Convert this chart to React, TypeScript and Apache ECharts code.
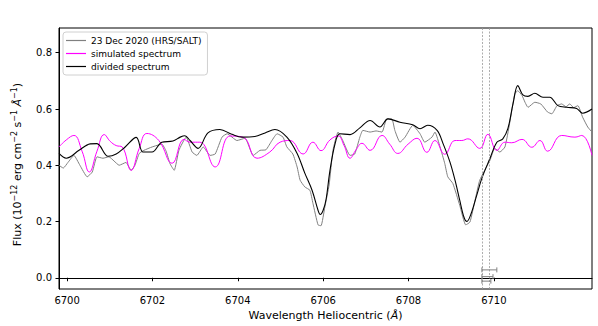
import React, { useEffect, useRef } from "react";
import * as echarts from "echarts";

// ---- data ----
const obsWave = [6699.81, 6699.91, 6700.02, 6700.16, 6700.30, 6700.47, 6700.59, 6700.70, 6700.84, 6700.98, 6701.10, 6701.22, 6701.38, 6701.50, 6701.59, 6701.69, 6701.80, 6701.99, 6702.22, 6702.32, 6702.41, 6702.51, 6702.62, 6702.79, 6702.93, 6703.04, 6703.19, 6703.35, 6703.47, 6703.63, 6703.75, 6703.98, 6704.17, 6704.36, 6704.52, 6704.66, 6704.80, 6704.92, 6705.06, 6705.15, 6705.29, 6705.39, 6705.46, 6705.57, 6705.69, 6705.76, 6705.88, 6705.95, 6706.04, 6706.14, 6706.23, 6706.35, 6706.46, 6706.63, 6706.74, 6706.86, 6706.93, 6707.10, 6707.24, 6707.38, 6707.49, 6707.61, 6707.68, 6707.80, 6707.92, 6708.10, 6708.27, 6708.38, 6708.55, 6708.62, 6708.74, 6708.85, 6708.92, 6709.04, 6709.20, 6709.34, 6709.44, 6709.56, 6709.67, 6709.91, 6710.02, 6710.14, 6710.26, 6710.37, 6710.49, 6710.56, 6710.66, 6710.73, 6710.80, 6710.96, 6711.10, 6711.26, 6711.36, 6711.48, 6711.59, 6711.69, 6711.78, 6711.87, 6711.97, 6712.08, 6712.20, 6712.30];
const obsFlux = [0.400, 0.390, 0.410, 0.435, 0.400, 0.359, 0.376, 0.430, 0.425, 0.430, 0.415, 0.400, 0.410, 0.382, 0.400, 0.442, 0.453, 0.465, 0.475, 0.450, 0.406, 0.382, 0.453, 0.500, 0.447, 0.435, 0.465, 0.435, 0.440, 0.500, 0.512, 0.488, 0.496, 0.435, 0.453, 0.455, 0.488, 0.512, 0.500, 0.465, 0.440, 0.394, 0.347, 0.323, 0.311, 0.265, 0.188, 0.185, 0.252, 0.330, 0.453, 0.518, 0.488, 0.435, 0.440, 0.500, 0.524, 0.518, 0.522, 0.518, 0.565, 0.565, 0.524, 0.482, 0.500, 0.542, 0.512, 0.482, 0.500, 0.518, 0.465, 0.406, 0.359, 0.335, 0.258, 0.188, 0.198, 0.276, 0.347, 0.418, 0.460, 0.447, 0.465, 0.549, 0.654, 0.665, 0.648, 0.624, 0.606, 0.624, 0.618, 0.589, 0.583, 0.612, 0.618, 0.608, 0.618, 0.605, 0.612, 0.571, 0.536, 0.518];

const simWave = [6699.81, 6699.98, 6700.16, 6700.35, 6700.52, 6700.70, 6700.87, 6701.01, 6701.15, 6701.29, 6701.50, 6701.69, 6701.87, 6702.15, 6702.46, 6702.74, 6702.88, 6703.11, 6703.47, 6703.82, 6704.12, 6704.45, 6704.75, 6704.99, 6705.22, 6705.53, 6705.76, 6705.95, 6706.16, 6706.35, 6706.49, 6706.63, 6706.77, 6706.91, 6707.10, 6707.38, 6707.56, 6707.75, 6707.99, 6708.20, 6708.43, 6708.62, 6708.85, 6709.09, 6709.25, 6709.39, 6709.67, 6709.86, 6710.07, 6710.26, 6710.42, 6710.66, 6710.89, 6711.08, 6711.26, 6711.59, 6711.90, 6712.06, 6712.30];
const simFlux = [0.465, 0.490, 0.506, 0.450, 0.376, 0.450, 0.509, 0.485, 0.470, 0.465, 0.382, 0.460, 0.513, 0.488, 0.407, 0.492, 0.482, 0.482, 0.394, 0.504, 0.500, 0.425, 0.447, 0.482, 0.488, 0.440, 0.482, 0.452, 0.490, 0.504, 0.470, 0.425, 0.455, 0.478, 0.453, 0.506, 0.475, 0.442, 0.475, 0.496, 0.446, 0.488, 0.439, 0.488, 0.488, 0.494, 0.460, 0.510, 0.453, 0.482, 0.480, 0.492, 0.464, 0.488, 0.450, 0.506, 0.500, 0.506, 0.435];

const divWave = [6699.81, 6699.98, 6700.28, 6700.54, 6700.70, 6700.96, 6701.15, 6701.36, 6701.62, 6701.78, 6701.99, 6702.22, 6702.48, 6702.65, 6702.76, 6702.88, 6703.07, 6703.30, 6703.58, 6703.86, 6704.10, 6704.40, 6704.64, 6704.87, 6705.15, 6705.39, 6705.57, 6705.74, 6705.88, 6705.93, 6706.00, 6706.07, 6706.16, 6706.28, 6706.39, 6706.63, 6706.86, 6707.10, 6707.33, 6707.52, 6707.80, 6708.10, 6708.27, 6708.45, 6708.67, 6708.81, 6708.97, 6709.09, 6709.20, 6709.30, 6709.37, 6709.46, 6709.60, 6709.72, 6709.91, 6710.07, 6710.21, 6710.33, 6710.45, 6710.56, 6710.68, 6710.80, 6710.96, 6711.15, 6711.31, 6711.50, 6711.71, 6711.94, 6712.08, 6712.30];
const divFlux = [0.442, 0.425, 0.453, 0.476, 0.477, 0.432, 0.440, 0.465, 0.499, 0.447, 0.447, 0.482, 0.486, 0.500, 0.505, 0.488, 0.460, 0.515, 0.527, 0.510, 0.500, 0.502, 0.515, 0.527, 0.500, 0.442, 0.372, 0.311, 0.240, 0.225, 0.240, 0.280, 0.382, 0.477, 0.512, 0.509, 0.533, 0.559, 0.536, 0.565, 0.553, 0.544, 0.530, 0.542, 0.524, 0.477, 0.412, 0.347, 0.276, 0.215, 0.200, 0.225, 0.294, 0.354, 0.425, 0.482, 0.494, 0.531, 0.619, 0.683, 0.650, 0.645, 0.656, 0.642, 0.642, 0.612, 0.606, 0.602, 0.585, 0.600];

const markerWaves = [6709.72, 6709.89];

const errCenter = [6709.89, 6709.86, 6709.84];
const errFlux = [0.028, 0.004, -0.012];
const errLow = [6709.72, 6709.72, 6709.72];
const errHigh = [6710.07, 6709.98, 6709.93];

const xTicks = [6700, 6702, 6704, 6706, 6708, 6710];
const yTicks = [0.0, 0.2, 0.4, 0.6, 0.8];

const seriesNames = ["23 Dec 2020 (HRS/SALT)", "simulated spectrum", "divided spectrum"];

const FONT = "DejaVu Sans";

export default function App() {
  const ref = useRef<HTMLDivElement>(null);
  useEffect(() => {
    document.body.style.margin = "0";
    const chart = echarts.init(ref.current!, null, { renderer: "svg" });
    const zip = (a: number[], b: number[]) => a.map((v, i) => [v, b[i]]);
    const errData = errCenter.map((c, i) => [c, errFlux[i], errLow[i], errHigh[i]]);
    chart.setOption({
      animation: false,
      backgroundColor: "#fff",
      grid: { left: 59, right: 6, top: 28, bottom: 37, show: true, borderColor: "#000", borderWidth: 1, backgroundColor: "transparent" },
      legend: {
        orient: "vertical",
        left: 63,
        top: 32,
        padding: [4, 6, 4, 3],
        itemGap: 4,
        itemWidth: 20,
        itemHeight: 1.2,
        icon: "rect",
        backgroundColor: "#fff",
        borderColor: "#d0d0d0",
        borderWidth: 1,
        borderRadius: 3,
        data: seriesNames,
        textStyle: { fontFamily: FONT, fontSize: 9, color: "#000" },
      },
      xAxis: {
        type: "value",
        min: 6699.81,
        max: 6712.3,
        name: "Wavelength Heliocentric ({it|Å})",
        nameLocation: "middle",
        nameGap: 20,
        nameTextStyle: { fontFamily: FONT, fontSize: 11, color: "#000", rich: { it: { fontFamily: FONT, fontSize: 11, fontStyle: "italic", color: "#000" } } },
        axisLine: { show: true, lineStyle: { color: "#000", width: 1 } },
        axisTick: { show: true, length: 3.5, lineStyle: { color: "#000" }, customValues: xTicks },
        axisLabel: { fontFamily: FONT, fontSize: 10, color: "#000", margin: 6, customValues: xTicks, formatter: (v: number) => String(Math.round(v)) },
        splitLine: { show: false },
      },
      yAxis: {
        type: "value",
        min: -0.04,
        max: 0.888,
        name: "Flux (10{sup|−12} erg cm{sup|−2} s{sup|−1} {it|Å}{sup|−1})",
        nameLocation: "middle",
        nameGap: 28,
        nameTextStyle: {
          fontFamily: FONT, fontSize: 11, color: "#000", lineHeight: 15,
          padding: [0, 12, 0, 0],
          rich: {
            sup: { fontFamily: FONT, fontSize: 8, color: "#000", verticalAlign: "top", lineHeight: 15 },
            it: { fontFamily: FONT, fontSize: 11, fontStyle: "italic", color: "#000", lineHeight: 15 },
          },
        },
        axisLine: { show: true, lineStyle: { color: "#000", width: 1 } },
        axisTick: { show: true, length: 3.5, lineStyle: { color: "#000" }, customValues: yTicks },
        axisLabel: { fontFamily: FONT, fontSize: 10, color: "#000", margin: 7, customValues: yTicks, formatter: (v: number) => v.toFixed(1) },
        splitLine: { show: false },
      },
      series: [
        {
          name: seriesNames[0],
          type: "line",
          data: zip(obsWave, obsFlux),
          showSymbol: false,
          smooth: 0.15,
          color: "#808080",
          itemStyle: { color: "#808080" },
          lineStyle: { color: "#808080", width: 1 },
          z: 2,
          markLine: {
            silent: true,
            symbol: ["none", "none"],
            label: { show: false },
            lineStyle: { color: "#999", type: [2, 1.5], width: 0.8 },
            data: markerWaves.map((w) => ({ xAxis: w })),
          },
        },
        {
          name: seriesNames[1],
          type: "line",
          data: zip(simWave, simFlux),
          showSymbol: false,
          smooth: 0.45,
          color: "#ff00ff",
          itemStyle: { color: "#ff00ff" },
          lineStyle: { color: "#ff00ff", width: 1 },
          z: 3,
        },
        {
          name: seriesNames[2],
          type: "line",
          data: zip(divWave, divFlux),
          showSymbol: false,
          smooth: 0.35,
          color: "#000",
          itemStyle: { color: "#000" },
          lineStyle: { color: "#000", width: 1.1 },
          z: 4,
        },
        {
          type: "custom",
          silent: true,
          data: errData,
          encode: { x: [0, 2, 3], y: 1 },
          renderItem: (params: any, api: any) => {
            const y = api.value(1);
            const a = api.coord([api.value(2), y]);
            const b = api.coord([api.value(3), y]);
            const st = { stroke: "#808080", lineWidth: 1 };
            return {
              type: "group",
              children: [
                { type: "line", shape: { x1: a[0], y1: a[1], x2: b[0], y2: b[1] }, style: st },
                { type: "line", shape: { x1: a[0], y1: a[1] - 2.5, x2: a[0], y2: a[1] + 2.5 }, style: st },
                { type: "line", shape: { x1: b[0], y1: b[1] - 2.5, x2: b[0], y2: b[1] + 2.5 }, style: st },
              ],
            };
          },
          z: 5,
        },
      ],
    });
    return () => chart.dispose();
  }, []);
  return <div ref={ref} style={{ width: 598, height: 326 }} />;
}
